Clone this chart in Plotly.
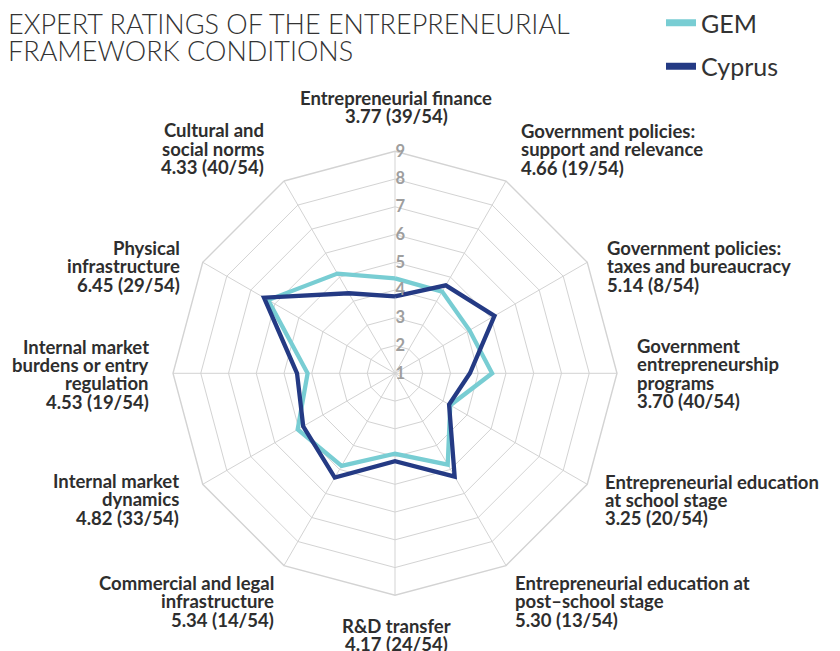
import plotly.graph_objects as go

# Framework conditions, clockwise from the top
conditions = [
    "Entrepreneurial finance",
    "Government policies: support and relevance",
    "Government policies: taxes and bureaucracy",
    "Government entrepreneurship programs",
    "Entrepreneurial education at school stage",
    "Entrepreneurial education at post-school stage",
    "R&D transfer",
    "Commercial and legal infrastructure",
    "Internal market dynamics",
    "Internal market burdens or entry regulation",
    "Physical infrastructure",
    "Cultural and social norms",
]
label_lines = [
    ["Entrepreneurial finance"],
    ["Government policies:", "support and relevance"],
    ["Government policies:", "taxes and bureaucracy"],
    ["Government", "entrepreneurship", "programs"],
    ["Entrepreneurial education", "at school stage"],
    ["Entrepreneurial education at", "post–school stage"],
    ["R&D transfer"],
    ["Commercial and legal", "infrastructure"],
    ["Internal market", "dynamics"],
    ["Internal market", "burdens or entry", "regulation"],
    ["Physical", "infrastructure"],
    ["Cultural and", "social norms"],
]
cyprus = [3.77, 4.66, 5.14, 3.70, 3.25, 5.30, 4.17, 5.34, 4.82, 4.53, 6.45, 4.33]
cyprus_rank = [39, 19, 8, 40, 20, 13, 24, 14, 33, 19, 29, 40]
gem = [4.42, 4.40, 4.10, 4.50, 3.30, 4.80, 3.90, 4.85, 5.05, 4.15, 6.28, 5.15]
n_economies = 54
radial_ticks = [1, 2, 3, 4, 5, 6, 7, 8, 9]
title_lines = ["EXPERT RATINGS OF THE ENTREPRENEURIAL", "FRAMEWORK CONDITIONS"]

W, H = 840, 651
GEM_COLOR = "#78cdd3"
CY_COLOR = "#243a84"
GRID = "#d3d3d3"
TEXT = "#2e2e2e"

# label anchor in pixels: (x, y of first line, x-anchor)
label_pos = [
    (396, 98, "center"),
    (519, 131, "left"),
    (605, 248, "left"),
    (635, 346, "left"),
    (603, 481.5, "left"),
    (513, 583, "left"),
    (396, 626, "center"),
    (276, 582.7, "right"),
    (180.5, 480.7, "right"),
    (151, 346.5, "right"),
    (181.7, 247.7, "right"),
    (266, 130.3, "right"),
]
LINE_STEP = 18.4

# polar area: centre and outer radius in pixels
CX, CY, R = 395, 373.3, 222

fig = go.Figure()
closed = conditions + conditions[:1]
for name, vals, color in [("GEM", gem, GEM_COLOR), ("Cyprus", cyprus, CY_COLOR)]:
    fig.add_trace(go.Scatterpolar(
        r=vals + vals[:1], theta=closed, mode="lines", name=name,
        line=dict(color=color, width=4.3), showlegend=False, hoverinfo="skip",
    ))
# legend entries with a heavier swatch
for name, color in [("GEM", GEM_COLOR), ("Cyprus", CY_COLOR)]:
    fig.add_trace(go.Scatterpolar(
        r=[None], theta=[conditions[0]], mode="lines", name=name,
        line=dict(color=color, width=7), legendgroup=name,
    ))

annotations = []
for k, t in enumerate(title_lines):
    annotations.append(dict(
        text=t, x=6 / W, y=1 - (24 + k * 27) / H, xref="paper", yref="paper",
        xanchor="left", yanchor="middle", showarrow=False,
        font=dict(family="Lato", size=27, color="#333333", weight=300),
    ))
for lines, val, rank, (x, y0, anchor) in zip(label_lines, cyprus, cyprus_rank, label_pos):
    all_lines = lines + [f"{val:.2f} ({rank}/{n_economies})"]
    for k, t in enumerate(all_lines):
        annotations.append(dict(
            text=t, x=x / W, y=1 - (y0 + k * LINE_STEP) / H,
            xref="paper", yref="paper", xanchor=anchor, yanchor="middle",
            showarrow=False, font=dict(family="Lato", size=18.5, color=TEXT, weight="bold"),
        ))

fig.update_layout(
    width=W, height=H,
    margin=dict(l=0, r=0, t=0, b=0),
    paper_bgcolor="white",
    legend=dict(
        x=661 / W, y=1, xanchor="left", yanchor="top",
        font=dict(family="Lato", size=25, color="#333333"),
        tracegroupgap=8, itemwidth=30, bgcolor="rgba(0,0,0,0)",
    ),
    polar=dict(
        domain=dict(x=[(CX - R) / W, (CX + R) / W], y=[(H - CY - R) / H, (H - CY + R) / H]),
        bgcolor="white",
        gridshape="linear",
        angularaxis=dict(
            rotation=90, direction="clockwise", showticklabels=False, ticks="",
            gridcolor=GRID, gridwidth=1.4, linecolor=GRID, linewidth=1.4, showline=True,
        ),
        radialaxis=dict(
            range=[1, 9], tickvals=radial_ticks, angle=90, tickangle=90,
            showline=False, ticks="", gridcolor=GRID, gridwidth=1.4,
            tickfont=dict(family="Lato", size=16.5, color="#9e9e9e", weight="bold"),
        ),
    ),
    annotations=annotations,
)

fig.write_html("out.html")
